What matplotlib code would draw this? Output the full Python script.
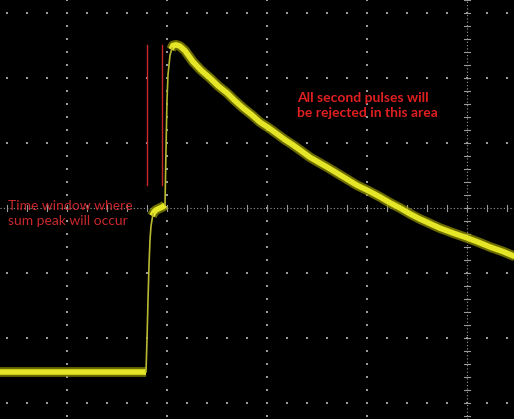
import numpy as np
import matplotlib.pyplot as plt

# scope trace, in screen divisions (x: 100 px/div, y: 65 px/div, origin at centre cross)
base_t = [-4.70, -3.21]
base_v = [-2.52, -2.52]

rise1_t = [-3.21, -3.20, -3.19, -3.18, -3.17, -3.16, -3.14]
rise1_v = [-2.52, -2.03, -1.42, -0.88, -0.49, -0.28, -0.09]

plateau_t = [-3.15, -3.13, -3.11, -3.07, -3.04, -3.02]
plateau_v = [-0.12, -0.06, -0.03, 0.00, 0.02, 0.05]

rise2_t = [-3.02, -3.01, -3.00, -2.99, -2.97, -2.95]
rise2_v = [0.05, 0.89, 1.66, 2.05, 2.35, 2.46]

decay_t = [-2.96, -2.94, -2.91, -2.87, -2.82, -2.74, -2.66, -2.57, -2.49, -2.40,
           -2.32, -2.24, -2.15, -2.07, -1.98, -1.90, -1.82, -1.74, -1.65, -1.57,
           -1.48, -1.40, -1.25, -1.10, -0.98, -0.87, -0.77, -0.67, -0.57, -0.47,
           -0.37, -0.27, -0.13, 0.00, 0.12, 0.23, 0.36, 0.50]
decay_v = [2.44, 2.50, 2.51, 2.49, 2.42, 2.25, 2.12, 2.00, 1.88, 1.77,
           1.65, 1.54, 1.43, 1.32, 1.23, 1.14, 1.05, 0.97, 0.87, 0.78,
           0.70, 0.63, 0.49, 0.35, 0.26, 0.17, 0.08, 0.00, -0.09, -0.17,
           -0.24, -0.31, -0.39, -0.46, -0.53, -0.60, -0.67, -0.76]

window_t = [-3.20, -3.05]
window_v = [0.35, 2.51]

label_left = "Time window where\nsum peak will occur"
label_right = "All second pulses will\nbe rejected in this area"

fig = plt.figure(figsize=(5.14, 4.19), dpi=100, facecolor='black')
ax = fig.add_axes([0, 0, 1, 1], facecolor='black')
ax.set_xlim(-4.67, 0.47)
ax.set_ylim(-3.246, 3.2)
ax.axis('off')

# graticule
grid_col = '#9a9a9a'
xs = np.arange(-4.6, 0.5, 0.2)
for row in [-3, -2, -1, 1, 2, 3]:
    ax.scatter(xs, np.full(len(xs), row), s=1.3, marker='s', c=grid_col, lw=0)
ys = np.arange(-3.2, 3.25, 0.2)
for col in [-4, -3, -2, -1]:
    ax.scatter(np.full(len(ys), col), ys, s=1.3, marker='s', c=grid_col, lw=0)
ax.axhline(0, color=grid_col, lw=0.8, ls=(0, (1, 2)))
ax.axvline(0, color=grid_col, lw=0.8, ls=(0, (1, 2)))
for x in xs:
    ax.plot([x, x], [-0.045, 0.045], color=grid_col, lw=0.8)
for y in ys:
    ax.plot([-0.03, 0.03], [y, y], color=grid_col, lw=0.8)

# trace
glow = '#9a9a00'
core = '#e6e628'
for t, v in [(base_t, base_v), (plateau_t, plateau_v), (decay_t, decay_v)]:
    ax.plot(t, v, color=glow, lw=7, alpha=0.7, solid_capstyle='butt',
            solid_joinstyle='round')
    ax.plot(t, v, color=core, lw=4, solid_capstyle='butt',
            solid_joinstyle='round')
for t, v in [(rise1_t, rise1_v), (rise2_t, rise2_v)]:
    ax.plot(t, v, color='#b8b830', lw=1.2)

# time window markers
for t in window_t:
    ax.plot([t, t], window_v, color='#c82a2a', lw=1.0)

ax.text(-4.59, -0.08, label_left, color='#c8282c', fontsize=10, family='Lato',
        va='center', ha='left', linespacing=1.3)
ax.text(-1.70, 1.58, label_right, color='#e02020', fontsize=10, family='Lato',
        fontweight='bold', va='center', ha='left', linespacing=1.3)

fig.savefig('out.png', dpi=100, facecolor='black')
